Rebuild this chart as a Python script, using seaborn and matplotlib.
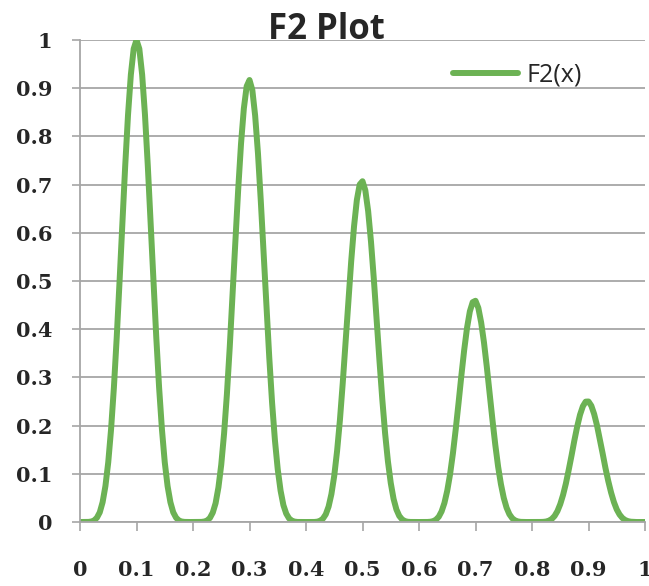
import matplotlib
matplotlib.use("Agg")
import matplotlib.pyplot as plt
import seaborn as sns
import pandas as pd

# Sampled F2(x) values on x = 0.000 .. 1.000 (step 0.005)
x_vals = [round(i * 0.005, 3) for i in range(201)]
f2_vals = [
    # 0.000 .. 0.195
    0.000, 0.000, 0.000, 0.0002, 0.001, 0.0031, 0.009, 0.0201, 0.041, 0.0745,
    0.124, 0.1925, 0.279, 0.3832, 0.499, 0.621, 0.739, 0.8448, 0.928, 0.9817,
    1.000, 0.9817, 0.928, 0.8448, 0.739, 0.621, 0.499, 0.3832, 0.279, 0.1925,
    0.124, 0.0745, 0.041, 0.0201, 0.009, 0.0031, 0.001, 0.0002, 0.000, 0.000,
    # 0.200 .. 0.395
    0.000, 0.000, 0.000, 0.0002, 0.001, 0.003, 0.0085, 0.0195, 0.039, 0.0717,
    0.119, 0.1835, 0.265, 0.3622, 0.470, 0.582, 0.690, 0.7849, 0.858, 0.904,
    0.917, 0.8963, 0.843, 0.7647, 0.666, 0.5573, 0.446, 0.3409, 0.247, 0.1697,
    0.109, 0.0651, 0.035, 0.0174, 0.0075, 0.0027, 0.0008, 0.0001, 0.000, 0.000,
    # 0.400 .. 0.595
    0.000, 0.000, 0.000, 0.0001, 0.0007, 0.0025, 0.007, 0.0159, 0.032, 0.058,
    0.096, 0.1471, 0.211, 0.2879, 0.372, 0.4586, 0.541, 0.6131, 0.668, 0.7002,
    0.707, 0.6882, 0.645, 0.582, 0.505, 0.4205, 0.335, 0.255, 0.184, 0.1259,
    0.081, 0.0479, 0.026, 0.0127, 0.0055, 0.0019, 0.0005, 0.0001, 0.000, 0.000,
    # 0.600 .. 0.795
    0.000, 0.000, 0.000, 0.0001, 0.0005, 0.0017, 0.0048, 0.0109, 0.022, 0.0394,
    0.065, 0.0992, 0.142, 0.1924, 0.247, 0.3039, 0.357, 0.4027, 0.437, 0.456,
    0.459, 0.4443, 0.414, 0.3726, 0.322, 0.2669, 0.212, 0.1604, 0.115, 0.0785,
    0.050, 0.0296, 0.016, 0.0078, 0.0033, 0.0012, 0.0003, 0.0001, 0.000, 0.000,
    # 0.800 .. 1.000
    0.000, 0.000, 0.000, 0.0001, 0.0003, 0.001, 0.0028, 0.0063, 0.0125, 0.0225,
    0.037, 0.0562, 0.080, 0.1082, 0.138, 0.1693, 0.198, 0.2225, 0.240, 0.2497,
    0.250, 0.2412, 0.224, 0.2005, 0.172, 0.1424, 0.112, 0.0848, 0.061, 0.0412,
    0.026, 0.0154, 0.0083, 0.004, 0.0017, 0.0006, 0.0002, 0.0000, 0.000, 0.000,
    0.000,
]
series_name = "F2(x)"
title_text = "F2 Plot"
x_ticks = [0, 0.1, 0.2, 0.3, 0.4, 0.5, 0.6, 0.7, 0.8, 0.9, 1]
y_ticks = [0, 0.1, 0.2, 0.3, 0.4, 0.5, 0.6, 0.7, 0.8, 0.9, 1]

df = pd.DataFrame({"x": x_vals, "y": f2_vals, "series": series_name})

sns.set_style("white")

fig = plt.figure(figsize=(6.49, 5.86), dpi=100)
ax = fig.add_axes([80 / 649, 1 - 522 / 586, 565 / 649, 482 / 586])

line_color = "#6CB254"
grid_color = "#A6A6A6"

sns.lineplot(data=df, x="x", y="y", hue="series", palette=[line_color],
             linewidth=4.3, ax=ax, legend=True,
             solid_joinstyle="round", solid_capstyle="round")

ax.set_xlim(0, 1)
ax.set_ylim(0, 1)
ax.set_xticks(x_ticks)
ax.set_yticks(y_ticks)
ax.set_xticklabels([f"{t:g}" for t in x_ticks])
ax.set_yticklabels([f"{t:g}" for t in y_ticks])
ax.set_xlabel("")
ax.set_ylabel("")

ax.yaxis.grid(True, color=grid_color, linewidth=1.3)
ax.xaxis.grid(False)
ax.set_axisbelow(True)

for side in ("top", "right"):
    ax.spines[side].set_visible(False)
for side in ("left", "bottom"):
    ax.spines[side].set_visible(True)
    ax.spines[side].set_color(grid_color)
    ax.spines[side].set_linewidth(1.3)

ax.tick_params(axis="x", length=6.5, width=1.2, color=grid_color, pad=21, direction="out", bottom=True)
ax.tick_params(axis="y", length=6, width=1.2, color=grid_color, pad=14, direction="out", left=True)
for lab in ax.get_xticklabels() + ax.get_yticklabels():
    lab.set_fontfamily("DejaVu Serif")
    lab.set_fontweight("bold")
    lab.set_fontsize(15)

fig.text(326 / 649, 1 - 30 / 586, title_text, ha="center", va="center",
         fontsize=25, fontweight="bold", family="Open Sans")

handles, labels = ax.get_legend_handles_labels()
ax.legend(handles, labels, loc="center left",
          bbox_to_anchor=(453 / 649, 1 - 75 / 586), bbox_transform=fig.transFigure,
          frameon=False, borderpad=0, borderaxespad=0, handlelength=2.6,
          handletextpad=0.35, prop=dict(family="Open Sans", size=18))

fig.savefig("out.png", dpi=100)
